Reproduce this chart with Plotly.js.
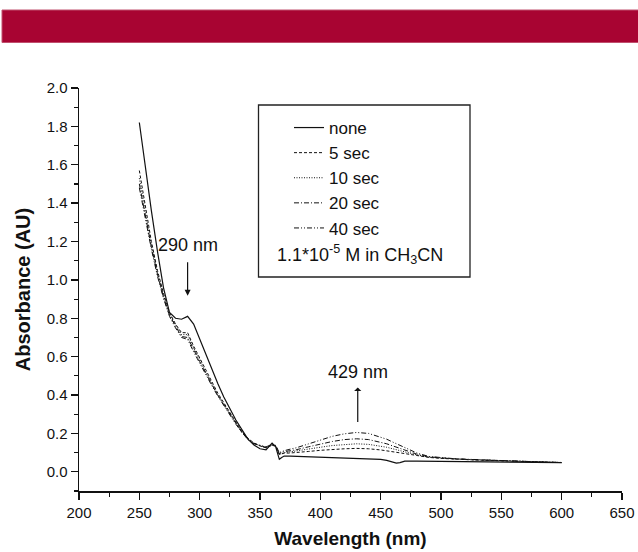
<!DOCTYPE html>
<html>
<head>
<meta charset="utf-8">
<script src="https://cdn.plot.ly/plotly-3.0.1.min.js"></script>
<style>
  html, body { margin: 0; padding: 0; background: #fff; }
  #chart { width: 638px; height: 552px; }
</style>
</head>
<body>
<div id="chart"></div>
<script>
// Wavelength grid (nm)
const wavelength = [250,255,260,265,270,275,280,285,290,295,300,305,310,315,320,325,330,335,340,345,350,355,360,363,366,368,370,375,380,390,400,410,420,430,440,450,455,460,463,466,470,480,490,500,510,520,530,540,550,560,570,580,590,600];

// Absorbance series (AU)
const absNone = [1.82,1.58,1.36,1.15,0.96,0.83,0.80,0.795,0.81,0.77,0.69,0.61,0.53,0.46,0.39,0.33,0.27,0.22,0.17,0.14,0.12,0.115,0.15,0.13,0.065,0.075,0.082,0.082,0.081,0.079,0.077,0.075,0.073,0.071,0.069,0.065,0.06,0.05,0.045,0.048,0.056,0.056,0.055,0.055,0.054,0.054,0.053,0.052,0.051,0.050,0.050,0.049,0.048,0.048];
const abs5s   = [1.57,1.38,1.20,1.05,0.93,0.83,0.77,0.725,0.725,0.655,0.595,0.53,0.47,0.41,0.36,0.31,0.26,0.21,0.175,0.15,0.135,0.125,0.14,0.135,0.09,0.095,0.097,0.098,0.10,0.106,0.112,0.117,0.12,0.122,0.12,0.114,0.11,0.105,0.101,0.098,0.095,0.085,0.075,0.07,0.066,0.063,0.061,0.059,0.057,0.055,0.053,0.051,0.05,0.048];
const abs10s  = [1.53,1.35,1.18,1.04,0.92,0.82,0.765,0.715,0.715,0.645,0.585,0.52,0.46,0.40,0.355,0.305,0.255,0.21,0.172,0.148,0.135,0.125,0.138,0.132,0.09,0.097,0.10,0.104,0.108,0.118,0.128,0.137,0.143,0.146,0.143,0.134,0.128,0.12,0.115,0.11,0.104,0.088,0.076,0.071,0.067,0.064,0.062,0.06,0.058,0.056,0.054,0.052,0.05,0.049];
const abs20s  = [1.50,1.33,1.17,1.03,0.91,0.815,0.76,0.705,0.70,0.635,0.575,0.515,0.455,0.40,0.35,0.30,0.25,0.205,0.17,0.147,0.137,0.127,0.14,0.135,0.095,0.102,0.105,0.11,0.115,0.13,0.145,0.158,0.168,0.172,0.168,0.155,0.146,0.135,0.128,0.121,0.113,0.092,0.078,0.072,0.068,0.065,0.063,0.061,0.058,0.056,0.054,0.052,0.05,0.048];
const abs40s  = [1.48,1.31,1.16,1.02,0.905,0.81,0.75,0.70,0.69,0.625,0.565,0.51,0.45,0.395,0.345,0.295,0.248,0.205,0.168,0.147,0.14,0.13,0.143,0.138,0.10,0.107,0.11,0.118,0.125,0.145,0.165,0.185,0.198,0.205,0.20,0.182,0.17,0.155,0.146,0.137,0.125,0.098,0.08,0.074,0.069,0.066,0.063,0.061,0.058,0.056,0.054,0.052,0.05,0.048];

const seriesNames = ['none','5 sec','10 sec','20 sec','40 sec'];
const seriesData = [absNone, abs5s, abs10s, abs20s, abs40s];
const dashes = ['solid','3px,2px','1px,1.5px','5px,2px,1px,2px','5px,2px,1px,2px,1px,2px'];
const widths = [1.2,1,1,1,1];

const xTicks = [200,250,300,350,400,450,500,550,600,650];
const yTicks = [0.0,0.2,0.4,0.6,0.8,1.0,1.2,1.4,1.6,1.8,2.0];

// Peak markers: [wavelength, absorbance at arrow anchor, label]
const peak290 = [290, 0.918, '290 nm'];
const peak429 = [431, 0.26, '429 nm'];

const FONT = '"Liberation Sans", Arial, Helvetica, sans-serif';

const traces = seriesNames.map((n, i) => ({
  type: 'scatter', mode: 'lines', name: n,
  x: wavelength, y: seriesData[i],
  line: { color: '#111', width: widths[i], dash: dashes[i] }
}));

const L = 79, R = 16, T = 88, B = 61, W = 638, H = 552;
const pw = W - L - R, ph = H - T - B;
const px2x = p => (p - L) / pw;
const px2y = p => (H - B - p) / ph;

const layout = {
  width: W, height: H,
  margin: { l: L, r: R, t: T, b: B },
  paper_bgcolor: '#fff', plot_bgcolor: '#fff',
  font: { family: FONT, color: '#111', size: 15 },
  showlegend: true,
  legend: {
    x: px2x(289), y: px2y(110), xanchor: 'left', yanchor: 'top',
    bgcolor: 'rgba(0,0,0,0)', borderwidth: 0,
    font: { family: FONT, size: 17, color: '#111' },
    tracegroupgap: 0
  },
  xaxis: {
    range: [200, 650], tickvals: xTicks, ticktext: xTicks.map(String),
    showgrid: false, zeroline: false, showline: true, linecolor: '#111', linewidth: 1.5,
    ticks: 'outside', ticklen: 7, tickwidth: 1.3, tickcolor: '#111',
    minor: { dtick: 25, tick0: 200, ticks: 'outside', ticklen: 4, tickwidth: 1.1, tickcolor: '#111', showgrid: false },
    tickfont: { family: FONT, size: 15, color: '#111' },
    title: { text: 'Wavelength (nm)', font: { family: FONT, size: 19, color: '#111', weight: 'bold' }, standoff: 12 },
    fixedrange: true
  },
  yaxis: {
    range: [-0.1, 2.0], tickvals: yTicks, ticktext: yTicks.map(v => v.toFixed(1)),
    showgrid: false, zeroline: false, showline: true, linecolor: '#111', linewidth: 1.5,
    ticks: 'outside', ticklen: 7, tickwidth: 1.3, tickcolor: '#111',
    minor: { dtick: 0.1, tick0: 0, ticks: 'outside', ticklen: 4, tickwidth: 1.1, tickcolor: '#111', showgrid: false },
    tickfont: { family: FONT, size: 15, color: '#111' },
    title: { text: 'Absorbance (AU)', font: { family: FONT, size: 20, color: '#111', weight: 'bold' }, standoff: 10 },
    fixedrange: true
  },
  shapes: [
    { type: 'rect', xref: 'paper', yref: 'paper',
      x0: px2x(2), x1: px2x(640), y0: px2y(42.5), y1: px2y(10),
      fillcolor: '#a80432', line: { color: '#c0506e', width: 1 } },
    { type: 'rect', xref: 'paper', yref: 'paper',
      x0: px2x(258.5), x1: px2x(470), y0: px2y(277), y1: px2y(105),
      fillcolor: 'rgba(0,0,0,0)', line: { color: '#222', width: 1.3 } }
  ],
  annotations: [
    { xref: 'paper', yref: 'paper', x: px2x(275), y: px2y(254), xanchor: 'left', yanchor: 'middle',
      text: '1.1*10<sup>-5</sup> M in CH<sub>3</sub>CN', showarrow: false,
      font: { family: FONT, size: 18, color: '#111' } },
    { xref: 'x', yref: 'y', x: peak290[0], y: peak290[1], ax: 0, ay: -51, text: peak290[2],
      showarrow: true, arrowhead: 2, arrowsize: 1, arrowwidth: 1.2, arrowcolor: '#111',
      startstandoff: 6, font: { family: FONT, size: 18, color: '#111' } },
    { xref: 'x', yref: 'y', x: peak429[0], y: peak429[1], ax: 0, ay: -50, text: peak429[2],
      showarrow: true, arrowside: 'start', arrowhead: 2, arrowsize: 1, arrowwidth: 1.2, arrowcolor: '#111',
      startstandoff: 4, font: { family: FONT, size: 18, color: '#111' } }
  ]
};

Plotly.newPlot('chart', traces, layout, { displayModeBar: false, staticPlot: true });
</script>
</body>
</html>
